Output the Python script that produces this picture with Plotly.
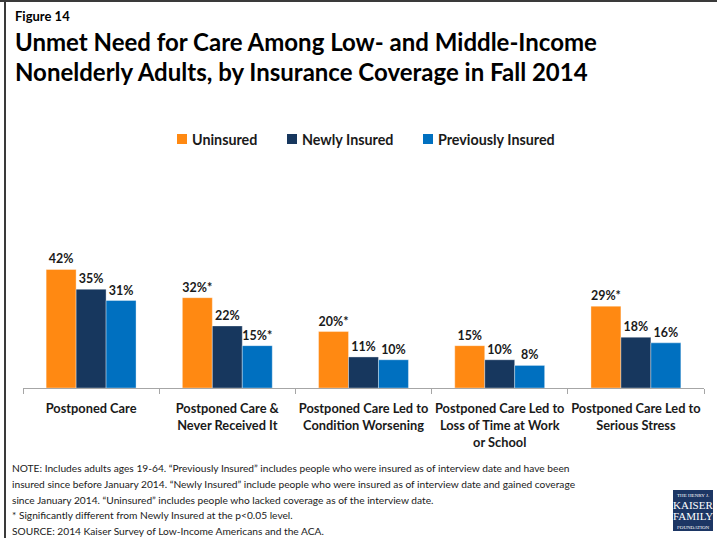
import plotly.graph_objects as go

# Survey results: share of adults reporting each kind of unmet need
categories = [
    "Postponed Care",
    "Postponed Care &<br>Never Received It",
    "Postponed Care Led to<br>Condition Worsening",
    "Postponed Care Led to<br>Loss of Time at Work<br>or School",
    "Postponed Care Led to<br>Serious Stress",
]
series_names = ["Uninsured", "Newly Insured", "Previously Insured"]
uninsured = [42, 32, 20, 15, 29]
newly_insured = [35, 22, 11, 10, 18]
previously_insured = [31, 15, 10, 8, 16]
# "*" marks a significant difference from Newly Insured
uninsured_sig = ["", "*", "*", "", "*"]
newly_sig = ["", "", "", "", ""]
previously_sig = ["", "*", "", "", ""]

colors = ["#FF8912", "#17375E", "#0070C0"]
FONT = "Lato"

W, H = 717, 538
ML, MR, MT, MB = 23, 13, 160, 150
PW, PH = W - ML - MR, H - MT - MB


def px(x):
    return (x - ML) / PW


def py(y):
    return (H - MB - y) / PH


fig = go.Figure()
for name, vals, sig, col in zip(
    series_names,
    [uninsured, newly_insured, previously_insured],
    [uninsured_sig, newly_sig, previously_sig],
    colors,
):
    fig.add_trace(
        go.Bar(
            name=name,
            x=categories,
            y=vals,
            marker=dict(color=col, line=dict(color="rgba(255,255,255,0.6)", width=0.6)),
            text=[f"{v}%{s}" for v, s in zip(vals, sig)],
            textposition="outside",
            cliponaxis=False,
            textfont=dict(family=FONT, size=12.5, color="#1a1a1a", weight="bold"),
        )
    )

fig.update_layout(
    width=W,
    height=H,
    margin=dict(l=ML, r=MR, t=MT, b=MB, autoexpand=False),
    paper_bgcolor="white",
    plot_bgcolor="white",
    barmode="group",
    bargap=0.34,
    bargroupgap=0,
    showlegend=False,
    uniformtext=dict(minsize=12, mode="show"),
    xaxis=dict(
        showline=True,
        linecolor="#a6a6a6",
        linewidth=1,
        ticks="outside",
        tickson="boundaries",
        ticklen=5,
        tickcolor="#a6a6a6",
        tickangle=0,
        automargin=False,
        tickfont=dict(family=FONT, size=12.8, color="#1a1a1a", weight="bold"),
        ticklabelstandoff=9,
    ),
    yaxis=dict(range=[0, 80.8], visible=False, fixedrange=True),
)

shapes = []
annotations = []

# frame lines along the top and left edges
shapes.append(dict(type="line", xref="paper", yref="paper", x0=px(0), x1=px(W), y0=py(1), y1=py(1),
                   line=dict(color="#3a3a3a", width=2)))
shapes.append(dict(type="line", xref="paper", yref="paper", x0=px(5), x1=px(5), y0=py(0), y1=py(H),
                   line=dict(color="#3a3a3a", width=2)))

# headings
annotations.append(dict(text="Figure 14", x=px(13), y=py(16), xref="paper", yref="paper",
                        xanchor="left", yanchor="middle", showarrow=False,
                        font=dict(family=FONT, size=13, color="black", weight="bold")))
annotations.append(dict(text="Unmet Need for Care Among Low- and Middle-Income", x=px(13), y=py(42),
                        xref="paper", yref="paper", xanchor="left", yanchor="middle", showarrow=False,
                        font=dict(family=FONT, size=24, color="black", weight="bold")))
annotations.append(dict(text="Nonelderly Adults, by Insurance Coverage in Fall 2014", x=px(13), y=py(72),
                        xref="paper", yref="paper", xanchor="left", yanchor="middle", showarrow=False,
                        font=dict(family=FONT, size=24, color="black", weight="bold")))

# legend entries
legend_x = [177, 287, 423]
for lx, name, col in zip(legend_x, series_names, colors):
    shapes.append(dict(type="rect", xref="paper", yref="paper", x0=px(lx), x1=px(lx + 10),
                       y0=py(144), y1=py(134), fillcolor=col, line=dict(width=0)))
    annotations.append(dict(text=name, x=px(lx + 13), y=py(139), xref="paper", yref="paper",
                            xanchor="left", yanchor="middle", showarrow=False,
                            font=dict(family=FONT, size=14.3, color="#1a1a1a", weight="bold")))

# notes
note_lines = [
    "NOTE: Includes adults ages 19-64. \u201cPreviously Insured\u201d includes people who were insured as of interview date and have been",
    "insured since before January 2014. \u201cNewly Insured\u201d include people who were insured as of interview date and gained coverage",
    "since January 2014. \u201cUninsured\u201d includes people who lacked coverage as of the interview date.",
    "* Significantly different from Newly Insured at the p<0.05 level.",
    "SOURCE: 2014 Kaiser Survey of Low-Income Americans and the ACA.",
]
for i, line in enumerate(note_lines):
    annotations.append(dict(text=line, x=px(10), y=py(468 + i * 15.8), xref="paper", yref="paper",
                            xanchor="left", yanchor="middle", showarrow=False,
                            font=dict(family=FONT, size=10.2, color="#1a1a1a")))

# foundation logo
shapes.append(dict(type="rect", xref="paper", yref="paper", x0=px(673), x1=px(713),
                   y0=py(531), y1=py(490), fillcolor="#1c3664", line=dict(width=0)))
logo = [("THE HENRY J.", 495, 5), ("KAISER", 505, 11), ("FAMILY", 516, 11), ("FOUNDATION", 527, 5)]
for txt, ly, sz in logo:
    annotations.append(dict(text=txt, x=px(693), y=py(ly), xref="paper", yref="paper",
                            xanchor="center", yanchor="middle", showarrow=False,
                            font=dict(family="Liberation Serif", size=sz, color="white")))

fig.update_layout(shapes=shapes, annotations=annotations)
fig.write_html("out.html")
